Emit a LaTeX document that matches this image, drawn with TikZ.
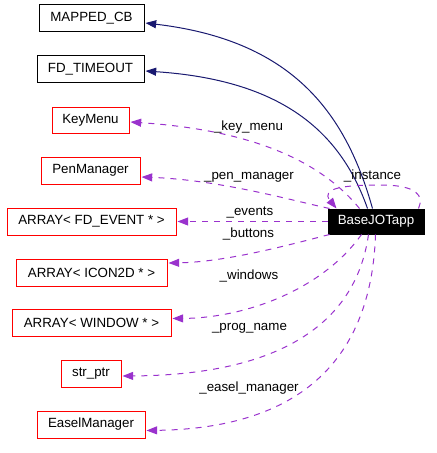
\documentclass[tikz,border=0pt]{standalone}
\usepackage{fontspec}
\setmainfont{Liberation Sans}
\usetikzlibrary{arrows.meta,calc}
\definecolor{navyline}{HTML}{191970}
\definecolor{orchidline}{HTML}{9A32CD}
\begin{document}
\begin{tikzpicture}[x=0.75pt,y=-0.75pt,
  box/.style={draw, line width=0.75pt, inner sep=0pt, font=\fontsize{10}{12}\selectfont, minimum height=27*0.75pt},
  redbox/.style={box, draw=red},
  inherit/.style={draw=navyline, line width=0.75pt, -{Triangle[length=8pt,width=6pt]}},
  uses/.style={draw=orchidline, line width=0.75pt, dash pattern=on 4.5pt off 4.5pt, -{Triangle[length=8pt,width=6pt]}},
  lbl/.style={font=\fontsize{10}{12}\selectfont, inner sep=0pt}]
\useasboundingbox (0,0) rectangle (436,453);

\node[box, minimum width=105*0.75pt] (mapped) at (91.5,18.5) {MAPPED\_CB};
\node[box, minimum width=107*0.75pt] (timeout) at (90.5,69.5) {FD\_TIMEOUT};
\node[redbox, minimum width=77*0.75pt, minimum height=26*0.75pt] (keymenu) at (90.5,120) {KeyMenu};
\node[redbox, minimum width=99*0.75pt] (pen) at (90.5,170.5) {PenManager};
\node[redbox, minimum width=169*0.75pt] (events) at (91.5,221.5) {ARRAY< FD\_EVENT * >};
\node[redbox, minimum width=151*0.75pt] (icon) at (91.5,272.5) {ARRAY< ICON2D * >};
\node[redbox, minimum width=159*0.75pt] (window) at (91.5,322.5) {ARRAY< WINDOW * >};
\node[redbox, minimum width=60*0.75pt] (strptr) at (91,373.5) {str\_ptr};
\node[redbox, minimum width=108*0.75pt] (easel) at (91,424.5) {EaselManager};
\node[box, fill=black, text=white, minimum width=96*0.75pt, minimum height=25*0.75pt] (base) at (376,221.5) {BaseJOTapp};

% inheritance
\draw[inherit] ($(base.north west)+(45,0)$) .. controls (345,110) and (290,40) .. ($(mapped.east)+(1,4.5)$);
\draw[inherit] ($(base.north west)+(40,0)$) .. controls (340,130) and (280,80) .. ($(timeout.east)+(1,1.5)$);

% usage
\draw[uses] ($(base.north west)+(32,0)$) .. controls (320,160) and (250,130) .. ($(keymenu.east)+(1,2)$);
\node[lbl] (lkey) at (248.5,127) {\_key\_menu};
\draw[uses] ($(base.north west)+(2,0)$) .. controls (290,200) and (220,180) .. ($(pen.east)+(1,6.5)$);
\node[lbl] (lpen) at (249,177) {\_pen\_manager};
\draw[uses] (base.west) -- ($(events.east)+(1,0)$);
\node[lbl] (lev) at (250,213) {\_events};
\draw[uses] ($(base.south west)+(2,0)$) .. controls (285,246) and (225,262) .. ($(icon.east)+(1,-9.5)$);
\node[lbl] (lbut) at (248.5,234) {\_buttons};
\draw[uses] ($(base.south west)+(34,0)$) .. controls (322,290) and (245,318) .. ($(window.east)+(1,-4)$);
\node[lbl] (lwin) at (249,276) {\_windows};
\draw[uses] ($(base.south west)+(41,0)$) .. controls (355,330) and (270,375) .. ($(strptr.east)+(1,2.5)$);
\node[lbl] (lprog) at (249.5,328) {\_prog\_name};
\draw[uses] ($(base.south west)+(48,0)$) .. controls (372,340) and (320,428) .. ($(easel.east)+(1,6)$);
\node[lbl] (leasel) at (249,388) {\_easel\_manager};
\draw[uses] ($(base.north east)+(-6,0)$) .. controls (424,196) and (418,185) .. (380,185) .. controls (345,185) and (320,188) .. ($(base.north west)+(9,0)$);
\node[lbl] (linst) at (372.5,176) {\_instance};
\end{tikzpicture}
\end{document}
